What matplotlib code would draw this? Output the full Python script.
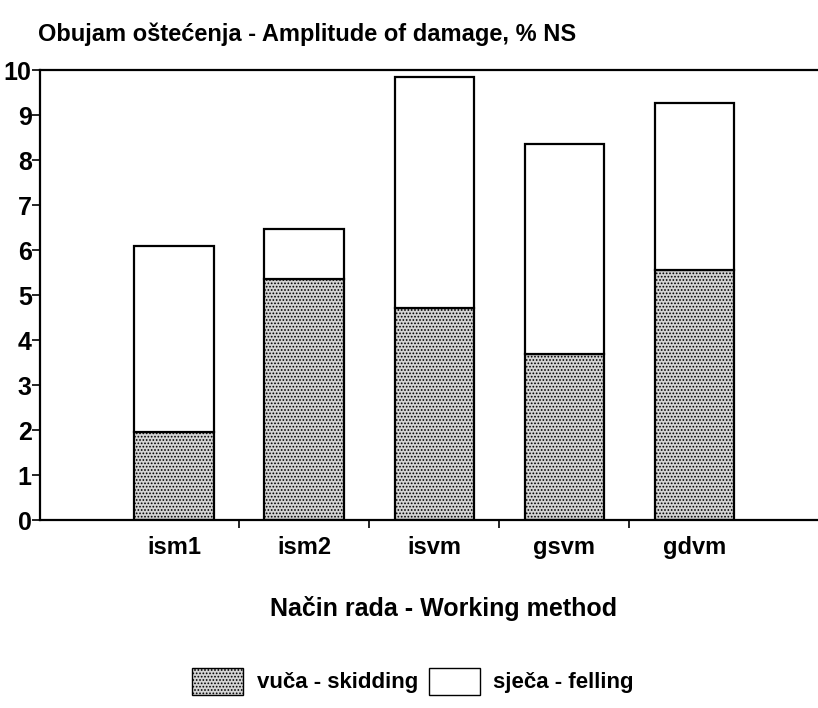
import matplotlib
matplotlib.use("Agg")
import matplotlib.pyplot as plt
from matplotlib.patches import Patch

categories = ["ism1", "ism2", "isvm", "gsvm", "gdvm"]
skidding = [1.95, 5.35, 4.72, 3.68, 5.55]
total = [6.1, 6.47, 9.85, 8.35, 9.27]
felling = [t - s for t, s in zip(total, skidding)]
yticks = list(range(0, 11))

plt.rcParams['font.family'] = ["Liberation Sans", "DejaVu Sans"]
plt.rcParams['hatch.color'] = '#4a4a4a'
plt.rcParams['hatch.linewidth'] = 0.8

fig = plt.figure(figsize=(8.18, 7.08), dpi=100)
ax = fig.add_axes([0.049, 0.2655, 0.951, 0.6355])

x = list(range(len(categories)))
w = 0.61
ax.bar(x, skidding, width=w, color='#d4d4d4', edgecolor='black', linewidth=1.6, hatch='.....')
ax.bar(x, felling, bottom=skidding, width=w, color='white', edgecolor='black', linewidth=1.6)

ax.set_xlim(-1.03, 4.95)
ax.set_ylim(0, 10)
ax.set_yticks(yticks)
ax.set_yticklabels([str(v) for v in yticks], fontsize=18, fontweight='bold')
ax.set_xticks([0.5, 1.5, 2.5, 3.5])
ax.set_xticklabels([])
ax.tick_params(axis='x', direction='out', length=6, width=1.2)
ax.tick_params(axis='y', direction='out', length=6, width=1.2, pad=0)
for i, c in enumerate(categories):
    ax.text(i, -0.35, c, ha='center', va='top', fontsize=17, fontweight='bold')

for s in ['left', 'bottom', 'top']:
    ax.spines[s].set_linewidth(1.6)
ax.spines['right'].set_visible(False)

fig.text(0.046, 0.952, "Obujam oštećenja - Amplitude of damage, % NS", ha='left', va='center',
         fontsize=17, fontweight='bold')
fig.text(0.542, 0.141, "Način rada - Working method", ha='center', va='center',
         fontsize=18, fontweight='bold')

handles = [Patch(facecolor='#d4d4d4', edgecolor='black', hatch='.....', label='vuča - skidding'),
           Patch(facecolor='white', edgecolor='black', label='sječa - felling')]
fig.legend(handles=handles, loc='center', bbox_to_anchor=(0.505, 0.038), ncol=2, frameon=False,
           prop={'size': 16, 'weight': 'bold'}, handlelength=2.3, handleheight=1.5,
           columnspacing=0.5, handletextpad=0.6)

fig.savefig("out.png", dpi=100)
